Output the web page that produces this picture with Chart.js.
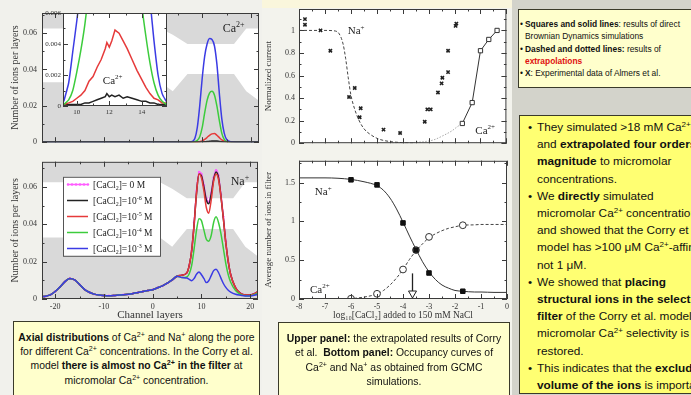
<!DOCTYPE html>
<html><head><meta charset="utf-8">
<script src="https://cdn.jsdelivr.net/npm/chart.js@4.4.1/dist/chart.umd.min.js"></script>
<style>
html,body{margin:0;padding:0}
body{width:691px;height:395px;overflow:hidden;position:relative;background:#d3d3cb;font-family:'Liberation Sans',Arial,Helvetica,sans-serif;color:#111}
.bg{position:absolute}
canvas{position:absolute}
sup{font-size:0.68em;line-height:0;vertical-align:0.5em}
.cap{position:absolute;background:#ffffcc;border:1px solid #3a3a2a;box-sizing:border-box;text-align:center;white-space:nowrap;overflow:hidden;z-index:3}
.rbox{position:absolute;border:1px solid #3a3a2a;box-sizing:border-box;white-space:nowrap;overflow:hidden;z-index:3}
.li{position:relative}
.li .b{position:absolute}
</style></head><body>
<div class="bg" style="left:0;top:0;width:262px;height:395px;background:#f1f1ec"></div>
<div class="bg" style="left:262px;top:0;width:250px;height:395px;background:#f3f3ed"></div>
<div class="bg" style="left:262px;top:0;width:250px;height:8px;background:#faf6dc"></div>
<canvas id="cCa" width="262" height="152" style="left:0;top:0"></canvas>
<canvas id="cIn" width="138" height="113" style="left:30px;top:5px"></canvas>
<canvas id="cNa" width="262" height="172" style="left:0;top:152px"></canvas>
<canvas id="cCur" width="250" height="152" style="left:262px;top:0"></canvas>
<canvas id="cOcc" width="250" height="172" style="left:262px;top:152px"></canvas>

<div class="cap" style="left:13px;top:321px;width:247px;height:80px;font-size:10.4px;line-height:14.2px;padding-top:9px">
<b>Axial distributions</b> of Ca<sup>2+</sup> and Na<sup>+</sup> along the pore<br>
for different Ca<sup>2+</sup> concentrations. In the Corry et al.<br>
model <b>there is almost no Ca<sup>2+</sup> in the filter</b> at<br>
micromolar Ca<sup>2+</sup> concentration.
</div>
<div class="cap" style="left:278px;top:322px;width:232px;height:80px;font-size:10.4px;line-height:14.3px;padding-top:9px">
<b>Upper panel:</b> the extrapolated results of Corry<br>
et al.&nbsp; <b>Bottom panel:</b> Occupancy curves of<br>
Ca<sup>2+</sup> and Na<sup>+</sup> as obtained from GCMC<br>
simulations.
</div>
<div class="rbox" style="left:518px;top:9px;width:190px;height:79px;background:#ffffcc;font-size:8.4px;line-height:12.3px;padding:8px 0 0 2px">
<div class="li" style="padding-left:4px"><span class="b" style="left:-1px">&#8226;</span><b>Squares and solid lines</b>: results of direct</div>
<div style="padding-left:4px">Brownian Dynamics simulations</div>
<div class="li" style="padding-left:4px"><span class="b" style="left:-1px">&#8226;</span><b>Dashed and dotted lines:</b> results of</div>
<div style="padding-left:4px"><b style="color:#e01010">extrapolations</b></div>
<div class="li" style="padding-left:4px"><span class="b" style="left:-1px">&#8226;</span><b>X</b>: Experimental data of Almers et al.</div>
</div>
<div class="rbox" style="left:519px;top:115px;width:190px;height:279px;background:#ffff72;font-size:11.8px;line-height:17.2px;padding:3px 0 0 8px">
<div class="li" style="padding-left:9px"><span class="b" style="left:0">&#8226;</span>They simulated &gt;18 mM Ca<sup>2+</sup>, and</div>
<div style="padding-left:9px">and <b>extrapolated four orders of</b></div>
<div style="padding-left:9px"><b>magnitude</b> to micromolar</div>
<div style="padding-left:9px">concentrations.</div>
<div class="li" style="padding-left:9px"><span class="b" style="left:0">&#8226;</span>We <b>directly</b> simulated</div>
<div style="padding-left:9px">micromolar Ca<sup>2+</sup> concentrations</div>
<div style="padding-left:9px">and showed that the Corry et al.</div>
<div style="padding-left:9px">model has &gt;100 &mu;M Ca<sup>2+</sup>-affinity,</div>
<div style="padding-left:9px">not 1 &mu;M.</div>
<div class="li" style="padding-left:9px"><span class="b" style="left:0">&#8226;</span>We showed that <b>placing</b></div>
<div style="padding-left:9px"><b>structural ions in the selective</b></div>
<div style="padding-left:9px"><b>filter</b> of the Corry et al. model,</div>
<div style="padding-left:9px">micromolar Ca<sup>2+</sup> selectivity is</div>
<div style="padding-left:9px">restored.</div>
<div class="li" style="padding-left:9px"><span class="b" style="left:0">&#8226;</span>This indicates that the <b>excluded</b></div>
<div style="padding-left:9px"><b>volume of the ions</b> is important.</div>
</div>

<script>
// ---------------- DATA ----------------
// pore wall outline (grey shading), channel layer vs ions/layer units
const poreX      = [-23, 1.5, 4, 7, 16.5, 19, 22];
const poreTop    = [0.0625, 0.0625, 0.059, 0.054, 0.054, 0.0625, 0.0625];
const poreBottom = [0.033, 0.033, 0.028, 0.0375, 0.0375, 0.028, 0.022];

// Ca2+ axial distribution (main panel)
const caLayers = [-23, 6, 7, 8, 8.5, 9, 9.5, 10, 10.5, 11, 11.5, 12, 12.5, 13, 13.5, 14, 14.5, 15, 16, 17, 18, 22];
const caM3 = [0, 0, 0, 0.0005, 0.002, 0.008, 0.020, 0.035, 0.047, 0.054, 0.057, 0.0565, 0.053, 0.043, 0.027, 0.013, 0.005, 0.0015, 0.0002, 0, 0, 0];
const caM4 = [0, 0, 0, 0, 0.0003, 0.001, 0.003, 0.008, 0.016, 0.023, 0.027, 0.028, 0.026, 0.020, 0.012, 0.005, 0.0015, 0.0004, 0, 0, 0, 0];
const caM5 = [0, 0, 0, 0, 0, 0, 0.0003, 0.0007, 0.0015, 0.0026, 0.0038, 0.0046, 0.0048, 0.0038, 0.0025, 0.0013, 0.0006, 0.0002, 0, 0, 0, 0];
const caM6 = [0, 0, 0, 0, 0, 0, 0, 0.0001, 0.0002, 0.0004, 0.0005, 0.0007, 0.0007, 0.0006, 0.0004, 0.0002, 0.0001, 0.0001, 0, 0, 0, 0];

// Ca2+ inset (zoom on filter)
const inLayers = [9.2, 9.5, 9.75, 10, 10.25, 10.5, 10.75, 11, 11.25, 11.5, 11.75, 11.85, 12, 12.15, 12.35, 12.6, 12.85, 13.1, 13.4, 13.7, 14, 14.25, 14.5, 14.75, 15, 15.25, 15.5];
const inM3 = [0.0003, 0.0015, 0.0035, 0.0055, 0.0078, 0.012, 0.02, 0.03, 0.04, 0.05, 0.055, 0.056, 0.057, 0.057, 0.056, 0.054, 0.05, 0.045, 0.035, 0.022, 0.012, 0.0085, 0.0068, 0.0042, 0.002, 0.0008, 0.0003];
const inM4 = [0.0001, 0.0004, 0.001, 0.0022, 0.0036, 0.0053, 0.0075, 0.010, 0.014, 0.019, 0.023, 0.025, 0.027, 0.028, 0.028, 0.027, 0.024, 0.020, 0.015, 0.010, 0.0065, 0.0045, 0.0028, 0.0015, 0.0007, 0.0003, 0.0001];
const inM5 = [0.0001, 0.0002, 0.0003, 0.0005, 0.0007, 0.001, 0.0016, 0.0019, 0.0025, 0.003, 0.0037, 0.0041, 0.0038, 0.0042, 0.0049, 0.0047, 0.0042, 0.0037, 0.003, 0.0023, 0.0017, 0.0012, 0.0008, 0.0005, 0.0004, 0.0002, 0.0002];
const inM6 = [0.0001, 0.0001, 0.0001, 0.0001, 0.0001, 0.0002, 0.0002, 0.0003, 0.0004, 0.0005, 0.0006, 0.0008, 0.0006, 0.0007, 0.0006, 0.0007, 0.0005, 0.0006, 0.0005, 0.0004, 0.0003, 0.0003, 0.0002, 0.0002, 0.0001, 0.0001, 0.0001];

// Na+ axial distribution
const naLayers = [-22.7, -22, -21, -20, -19, -18, -17, -16, -15, -14, -13, -12, -11, -10, -9, -8, -7, -6, -5, -4, -3, -2, -1, 0, 1, 2, 3, 4, 5,
                  6, 7, 7.5, 8, 8.5, 9, 9.5, 10, 10.5, 11, 11.5, 12, 12.5, 13, 13.5, 14, 14.5, 15, 15.5, 16, 17, 18, 19, 20, 21, 21.6];
const naVestibule = [0.0012, 0.0015, 0.0022, 0.004, 0.0065, 0.0093, 0.0110, 0.0102, 0.0078, 0.0052, 0.0036, 0.0026, 0.0021, 0.0019, 0.0018, 0.0019, 0.0021, 0.0023, 0.0026, 0.003, 0.0035, 0.004, 0.0045, 0.005, 0.006, 0.007, 0.0085, 0.0102, 0.0122];
const naCa0  = naVestibule.concat([0.0128, 0.014, 0.018, 0.026, 0.041, 0.058, 0.068, 0.067, 0.061, 0.054, 0.052, 0.057, 0.065, 0.069, 0.066, 0.056, 0.044, 0.031, 0.020, 0.013, 0.006, 0.003, 0.0022, 0.0022, 0.003, 0.004]);
const naCaM6 = naVestibule.concat([0.0128, 0.014, 0.018, 0.026, 0.040, 0.057, 0.067, 0.066, 0.060, 0.053, 0.051, 0.056, 0.064, 0.068, 0.065, 0.055, 0.043, 0.030, 0.020, 0.013, 0.006, 0.003, 0.0022, 0.0022, 0.003, 0.004]);
const naCaM5 = naVestibule.concat([0.0128, 0.014, 0.018, 0.026, 0.040, 0.057, 0.067, 0.065, 0.058, 0.049, 0.046, 0.053, 0.063, 0.067, 0.064, 0.055, 0.043, 0.030, 0.020, 0.013, 0.006, 0.003, 0.0022, 0.0022, 0.003, 0.004]);
const naCaM4 = naVestibule.concat([0.0115, 0.0118, 0.0135, 0.018, 0.027, 0.037, 0.043, 0.042, 0.037, 0.032, 0.031, 0.034, 0.041, 0.044, 0.041, 0.035, 0.027, 0.019, 0.013, 0.009, 0.0045, 0.0025, 0.0018, 0.0018, 0.0025, 0.0032]);
const naCaM3 = naVestibule.concat([0.0115, 0.0112, 0.0105, 0.0098, 0.011, 0.0133, 0.0145, 0.013, 0.011, 0.0088, 0.0098, 0.0125, 0.0152, 0.016, 0.0142, 0.0112, 0.0083, 0.0062, 0.0047, 0.0037, 0.0025, 0.002, 0.0016, 0.0016, 0.0021, 0.0026]);
const naLegend = ['[CaCl_{2}]= 0 M', '[CaCl_{2}]=10^{-6} M', '[CaCl_{2}]=10^{-5} M', '[CaCl_{2}]=10^{-4} M', '[CaCl_{2}]=10^{-3} M'];

// Upper middle: normalized current vs log10[CaCl2]
const naExtrapLog = [-8, -7, -6.6, -6.45, -6.3, -6.2, -6.1, -6.0, -5.85, -5.7, -5.5, -5.2, -4.9, -4.5, -4.0, -3.6];
const naExtrapCur = [1.0, 1.0, 0.995, 0.97, 0.88, 0.75, 0.58, 0.43, 0.30, 0.21, 0.13, 0.07, 0.035, 0.015, 0.005, 0.002];
const caExtrapLog = [-4.4, -4.0, -3.6, -3.2, -2.8, -2.4, -2.1, -1.9, -1.7];
const caExtrapCur = [0.0, 0.002, 0.006, 0.013, 0.03, 0.072, 0.11, 0.145, 0.175];
const caBDLog = [-1.7, -1.32, -1.0, -0.68, -0.36];
const caBDCur = [0.175, 0.36, 0.82, 0.92, 1.0];
const exptLog = [-7.77, -7.77, -7.17, -6.79, -6.07, -5.85, -5.62, -5.66, -4.74, -4.1, -3.15, -3.05, -2.92, -2.64, -2.5, -2.47, -2.25, -2.25, -1.96, -1.93];
const exptCur = [1.1, 1.05, 1.0, 0.82, 0.41, 0.49, 0.31, 0.23, 0.12, 0.09, 0.19, 0.30, 0.30, 0.45, 0.53, 0.58, 0.63, 0.82, 1.04, 1.06];

// Lower middle: occupancy (GCMC)
const occLog = [-6, -5, -4, -3.5, -3, -1.7];
const occNa  = [1.535, 1.47, 0.98, 0.63, 0.335, 0.10];
const occCa  = [0.004, 0.067, 0.38, 0.63, 0.80, 0.95];
const fitLog = [-8, -7, -6.5, -6, -5.5, -5, -4.75, -4.5, -4.25, -4, -3.75, -3.5, -3.25, -3, -2.75, -2.5, -2.25, -2, -1.7, -1.25, -1, -0.5, 0];
const fitNa  = [1.56, 1.56, 1.555, 1.54, 1.51, 1.46, 1.40, 1.30, 1.16, 0.99, 0.81, 0.64, 0.48, 0.35, 0.25, 0.18, 0.14, 0.11, 0.10, 0.09, 0.09, 0.085, 0.085];
const fitCa  = [0, 0, 0.001, 0.005, 0.025, 0.065, 0.11, 0.18, 0.27, 0.38, 0.51, 0.62, 0.71, 0.79, 0.84, 0.88, 0.91, 0.93, 0.95, 0.955, 0.96, 0.96, 0.96];

// ---------------- HELPERS ----------------
const SERIF = "'Liberation Serif','Times New Roman',serif";
const COL = {blue: '#3b3be4', green: '#3ccc3c', red: '#e63a3a', black: '#222', mag: '#ff5cff', grey: '#d9d9d9'};
const pts = (xs, ys) => xs.map((x, i) => ({x, y: ys[i]}));

function parseRich(s) {
  const out = []; let i = 0, buf = '';
  while (i < s.length) {
    const c = s[i];
    if ((c === '^' || c === '_') && s[i + 1] === '{') {
      if (buf) { out.push([buf, 0]); buf = ''; }
      const j = s.indexOf('}', i);
      out.push([s.slice(i + 2, j), c === '^' ? 1 : -1]);
      i = j + 1;
    } else { buf += c; i++; }
  }
  if (buf) out.push([buf, 0]);
  return out;
}
function drawRich(ctx, str, x, y, size, color, align) {
  const parts = parseRich(str);
  const f = m => (m ? Math.round(size * 0.68) : size) + 'px ' + SERIF;
  ctx.save(); ctx.fillStyle = color; ctx.textBaseline = 'alphabetic'; ctx.textAlign = 'left';
  let w = 0;
  parts.forEach(p => { ctx.font = f(p[1]); w += ctx.measureText(p[0]).width; });
  let cx = align === 'center' ? x - w / 2 : align === 'right' ? x - w : x;
  parts.forEach(p => {
    ctx.font = f(p[1]);
    const dy = p[1] === 1 ? -size * 0.42 : p[1] === -1 ? size * 0.22 : 0;
    ctx.fillText(p[0], cx, y + dy);
    cx += ctx.measureText(p[0]).width;
  });
  ctx.restore();
}

const framePlugin = {
  id: 'frame',
  beforeDraw(chart, args, o) {
    const a = chart.chartArea, ctx = chart.ctx;
    ctx.save(); ctx.fillStyle = '#fff';
    ctx.fillRect(a.left, a.top, a.right - a.left, a.bottom - a.top); ctx.restore();
  },
  afterDatasetsDraw(chart, args, o) {
    const a = chart.chartArea, ctx = chart.ctx, xs = chart.scales.x, ys = chart.scales.y;
    ctx.save();
    ctx.strokeStyle = '#3a3a3a'; ctx.lineWidth = 1;
    ctx.beginPath();
    const seg = (x1, y1, x2, y2) => { ctx.moveTo(x1, y1); ctx.lineTo(x2, y2); };
    const marks = (sc, step, len, horiz) => {
      for (let k = Math.ceil(sc.min / step - 1e-6); k * step <= sc.max + 1e-9; k++) {
        const p = Math.round(sc.getPixelForValue(k * step)) + 0.5;
        if (horiz) { seg(p, a.bottom, p, a.bottom - len); seg(p, a.top, p, a.top + len); }
        else { seg(a.left, p, a.left + len, p); seg(a.right, p, a.right - len, p); }
      }
    };
    marks(xs, o.xMajor, 5, true); if (o.xMinor) marks(xs, o.xMinor, 2.5, true);
    marks(ys, o.yMajor, 5, false); if (o.yMinor) marks(ys, o.yMinor, 2.5, false);
    ctx.stroke();
    ctx.strokeRect(a.left + 0.5, a.top + 0.5, a.right - a.left - 1, a.bottom - a.top - 1);
    ctx.restore();
  },
  afterDraw(chart, args, o) {
    const a = chart.chartArea, ctx = chart.ctx, xs = chart.scales.x, ys = chart.scales.y;
    (o.texts || []).forEach(t => drawRich(ctx, t.t, xs.getPixelForValue(t.x), ys.getPixelForValue(t.y), t.size, '#222', 'left'));
    if (o.legend) {
      const L = o.legend, lx = a.left + L.dx, ly = a.top + L.dy;
      ctx.save();
      ctx.fillStyle = '#fff'; ctx.fillRect(lx, ly, L.w, L.h);
      ctx.strokeStyle = '#555'; ctx.lineWidth = 1; ctx.strokeRect(lx + 0.5, ly + 0.5, L.w, L.h);
      L.items.forEach((di, i) => {
        const ds = chart.data.datasets[di], yy = Math.round(ly + L.first + i * L.row) + 0.5;
        ctx.strokeStyle = ds.borderColor; ctx.lineWidth = ds.borderWidth;
        ctx.beginPath(); ctx.moveTo(lx + 4, yy); ctx.lineTo(lx + 25, yy); ctx.stroke();
        if (ds.pointRadius > 0) {
          ctx.fillStyle = ds.pointBackgroundColor;
          for (let k = 0; k < 6; k++) { ctx.beginPath(); ctx.arc(lx + 5 + k * 4, yy, ds.pointRadius, 0, 7); ctx.fill(); }
        }
        drawRich(ctx, ds.label, lx + 30, yy + 3.5, 9.5, '#222', 'left');
      });
      ctx.restore();
    }
    if (o.arrow) {
      const px = Math.round(xs.getPixelForValue(o.arrow.x)) + 0.5;
      const y1 = ys.getPixelForValue(o.arrow.y1), y2 = ys.getPixelForValue(o.arrow.y2);
      ctx.save(); ctx.strokeStyle = '#222'; ctx.lineWidth = 1.3;
      ctx.beginPath(); ctx.moveTo(px, y1); ctx.lineTo(px, y2 - 8); ctx.stroke();
      ctx.fillStyle = '#fff'; ctx.lineWidth = 1;
      ctx.beginPath(); ctx.moveTo(px - 4, y2 - 8); ctx.lineTo(px + 4, y2 - 8); ctx.lineTo(px, y2 - 1); ctx.closePath(); ctx.fill(); ctx.stroke();
      ctx.restore();
    }
  }
};
Chart.register(framePlugin);

function axis(o) {
  return {
    type: 'linear', min: o.min, max: o.max,
    grid: {display: false, drawTicks: false}, border: {display: false},
    ticks: {display: !!o.labels, stepSize: o.step, includeBounds: false, autoSkip: false, maxRotation: 0,
            padding: o.pad, color: '#333', font: {family: SERIF, size: o.size || 8}, callback: o.fmt || (v => String(v))},
    title: o.title ? {display: true, text: o.title, color: '#333', font: {family: SERIF, size: o.tsize}, padding: o.tpad} : {display: false},
    afterFit: o.horiz ? (s => { s.height = o.fit; }) : (s => { s.width = o.fit; })
  };
}
const base = (pad, frame) => ({
  responsive: false, animation: false, events: [],
  layout: {padding: pad},
  plugins: {legend: {display: false}, tooltip: {enabled: false}, frame}
});
const poreSets = () => [
  {data: pts(poreX, poreTop), fill: 'end', backgroundColor: COL.grey, borderColor: 'rgba(0,0,0,0)', borderWidth: 0, pointRadius: 0, tension: 0, order: 20},
  {data: pts(poreX, poreBottom), fill: 'start', backgroundColor: COL.grey, borderColor: 'rgba(0,0,0,0)', borderWidth: 0, pointRadius: 0, tension: 0, order: 21}
];
const curve = (label, xs, ys, color, order, extra) => Object.assign({
  label, data: pts(xs, ys), borderColor: color, backgroundColor: color, borderWidth: 1.5, pointRadius: 0,
  fill: false, cubicInterpolationMode: 'monotone', order
}, extra || {});
const fmt2 = v => v === 0 ? '0' : v.toFixed(2);

// ---------------- CHART: Ca2+ main ----------------
new Chart(document.getElementById('cCa'), {
  type: 'line',
  data: {datasets: [...poreSets(),
    curve('1e-6', caLayers, caM6, COL.black, 5),
    curve('1e-5', caLayers, caM5, COL.red, 4),
    curve('1e-4', caLayers, caM4, COL.green, 3),
    curve('1e-3', caLayers, caM3, COL.blue, 2)]},
  options: Object.assign(base({top: 13, right: 3, bottom: 3, left: 0},
    {xMajor: 10, xMinor: 5, yMajor: 0.02, yMinor: 0.01, texts: [{t: 'Ca^{2+}', x: 14.2, y: 0.0603, size: 12}]}), {
    scales: {
      x: axis({horiz: true, min: -22.7, max: 21.6, step: 10, labels: false, fit: 0}),
      y: axis({min: 0, max: 0.071, step: 0.02, labels: true, pad: 5, fmt: fmt2, fit: 42,
               title: 'Number of ions per layers', tsize: 10, tpad: {top: 9, bottom: 0}})
    }
  })
});

// ---------------- CHART: Ca2+ inset ----------------
new Chart(document.getElementById('cIn'), {
  type: 'line',
  data: {datasets: [
    curve('1e-6', inLayers, inM6, COL.black, 5, {tension: 0, cubicInterpolationMode: 'default'}),
    curve('1e-5', inLayers, inM5, COL.red, 4, {tension: 0, cubicInterpolationMode: 'default'}),
    curve('1e-4', inLayers, inM4, COL.green, 3, {tension: 0.2, cubicInterpolationMode: 'default'}),
    curve('1e-3', inLayers, inM3, COL.blue, 2, {tension: 0.2, cubicInterpolationMode: 'default'})]},
  options: Object.assign(base({top: 8, right: 1, bottom: 0, left: 0},
    {xMajor: 2, xMinor: 1, yMajor: 0.002, yMinor: 0.001, texts: [{t: 'Ca^{2+}', x: 11.6, y: 0.00142, size: 11}]}), {
    scales: {
      x: axis({horiz: true, min: 9.15, max: 15.55, step: 2, labels: true, pad: 2, size: 7, fit: 12}),
      y: axis({min: 0, max: 0.006, step: 0.002, labels: true, pad: 2, size: 7, fit: 33, fmt: v => v === 0 ? '0' : v.toFixed(3)})
    }
  })
});

// ---------------- CHART: Na+ ----------------
new Chart(document.getElementById('cNa'), {
  type: 'line',
  data: {datasets: [...poreSets(),
    curve(naLegend[0], naLayers, naCa0, COL.mag, 9, {pointRadius: 1.2, pointBackgroundColor: COL.mag, pointBorderWidth: 0}),
    curve(naLegend[1], naLayers, naCaM6, COL.black, 8),
    curve(naLegend[2], naLayers, naCaM5, COL.red, 7),
    curve(naLegend[3], naLayers, naCaM4, COL.green, 6),
    curve(naLegend[4], naLayers, naCaM3, COL.blue, 5)]},
  options: Object.assign(base({top: 6, right: 3, bottom: 0, left: 0},
    {xMajor: 10, xMinor: 5, yMajor: 0.02, yMinor: 0.01,
     texts: [{t: 'Na^{+}', x: 16.0, y: 0.0613, size: 12}],
     legend: {dx: 21, dy: 15, w: 97, h: 79, first: 7, row: 16, items: [2, 3, 4, 5, 6]}}), {
    scales: {
      x: axis({horiz: true, min: -22.7, max: 21.6, step: 10, labels: true, pad: 3, fit: 25,
               title: 'Channel layers', tsize: 11, tpad: {top: 0, bottom: 2}}),
      y: axis({min: 0, max: 0.0735, step: 0.02, labels: true, pad: 5, fmt: fmt2, fit: 42,
               title: 'Number of ions per layers', tsize: 10, tpad: {top: 9, bottom: 0}})
    }
  })
});

// ---------------- CHART: normalized current ----------------
new Chart(document.getElementById('cCur'), {
  type: 'line',
  data: {datasets: [
    {label: 'expt', data: pts(exptLog, exptCur), showLine: false, pointStyle: 'crossRot', pointRadius: 2.3,
     borderColor: '#222', pointBorderWidth: 1.6, backgroundColor: '#222', order: 1},
    curve('Ca BD', caBDLog, caBDCur, '#333', 2, {borderWidth: 1, cubicInterpolationMode: 'default', tension: 0,
          pointStyle: 'rect', pointRadius: 3, pointBackgroundColor: '#fff', pointBorderColor: '#333', pointBorderWidth: 1}),
    curve('Ca extrap', caExtrapLog, caExtrapCur, '#a8a8a8', 3, {borderWidth: 1, borderDash: [1.5, 1.5]}),
    curve('Na extrap', naExtrapLog, naExtrapCur, '#444', 4, {borderWidth: 1, borderDash: [3, 2]})]},
  options: Object.assign(base({top: 9, right: 4, bottom: 2, left: 0},
    {xMajor: 1, xMinor: 0.5, yMajor: 0.2, yMinor: 0.1,
     texts: [{t: 'Na^{+}', x: -6.12, y: 0.965, size: 11}, {t: 'Ca^{2+}', x: -1.2, y: 0.085, size: 11}]}), {
    scales: {
      x: axis({horiz: true, min: -8, max: 0, step: 1, labels: false, fit: 0}),
      y: axis({min: 0, max: 1.19, step: 0.2, labels: true, pad: 4, fit: 37, fmt: v => v === 0 ? '0' : String(+v.toFixed(1)),
               title: 'Normalized current', tsize: 9, tpad: {top: 1, bottom: 0}})
    }
  })
});

// ---------------- CHART: occupancy ----------------
new Chart(document.getElementById('cOcc'), {
  type: 'line',
  data: {datasets: [
    {label: 'Na GCMC', data: pts(occLog, occNa), showLine: false, pointStyle: 'rect', pointRadius: 3.2,
     backgroundColor: '#111', borderColor: '#111', order: 1},
    {label: 'Ca GCMC', data: pts(occLog, occCa), showLine: false, pointStyle: 'circle', pointRadius: 3.4,
     backgroundColor: '#fff', borderColor: '#333', pointBorderWidth: 1, order: 2},
    curve('Na fit', fitLog, fitNa, '#333', 3, {borderWidth: 1}),
    curve('Ca fit', fitLog, fitCa, '#444', 4, {borderWidth: 1, borderDash: [3, 2]})]},
  options: Object.assign(base({top: 5, right: 4, bottom: 0, left: 0},
    {xMajor: 1, xMinor: 0.5, yMajor: 0.5, yMinor: 0.25,
     texts: [{t: 'Na^{+}', x: -7.39, y: 1.336, size: 11}, {t: 'Ca^{2+}', x: -7.58, y: 0.076, size: 11}],
     arrow: {x: -3.65, y1: 0.33, y2: 0}}), {
    scales: {
      x: axis({horiz: true, min: -8, max: 0, step: 1, labels: true, pad: 3, fit: 25,
               title: 'log\u2081\u2080[CaCl\u2082] added to 150 mM NaCl', tsize: 9.5, tpad: {top: 0, bottom: 3}}),
      y: axis({min: 0, max: 1.78, step: 0.5, labels: true, pad: 4, fit: 37, fmt: v => v === 0 ? '0' : String(+v.toFixed(2)),
               title: 'Average number of ions in filter', tsize: 9, tpad: {top: 1, bottom: 0}})
    }
  })
});
</script>
</body></html>
